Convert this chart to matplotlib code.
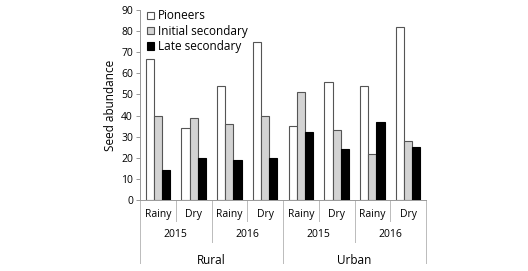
import matplotlib
matplotlib.use("Agg")
import matplotlib.pyplot as plt
import numpy as np

seasons = ["Rainy", "Dry", "Rainy", "Dry", "Rainy", "Dry", "Rainy", "Dry"]
years = ["2015", "2016", "2015", "2016"]
areas = ["Rural", "Urban"]
pioneers = [67, 34, 54, 75, 35, 56, 54, 82]
initial_secondary = [40, 39, 36, 40, 51, 33, 22, 28]
late_secondary = [14, 20, 19, 20, 32, 24, 37, 25]

plt.rcParams['font.family'] = ['Open Sans', 'DejaVu Sans']
fig = plt.figure(figsize=(5.28, 2.71), dpi=100)
ax = fig.add_axes([140/528, 1-200/271, 286/528, 190/271])

x = np.arange(len(seasons))
w = 0.23
ec = '#555555'
ax.bar(x - w, pioneers, w, color='white', edgecolor=ec, linewidth=0.8, label='Pioneers')
ax.bar(x, initial_secondary, w, color='#d3d3d3', edgecolor=ec, linewidth=0.8, label='Initial secondary')
ax.bar(x + w, late_secondary, w, color='black', edgecolor='black', linewidth=0.8, label='Late secondary')

ax.set_xlim(-0.5, 7.5)
ax.set_ylim(0, 90)
ax.set_yticks(range(0, 91, 10))
ax.tick_params(axis='y', labelsize=7.5, length=3, width=0.6, color='#888888', pad=2)
ax.set_xticks([])
for s in ['top', 'right']:
    ax.spines[s].set_visible(False)
for s in ['left', 'bottom']:
    ax.spines[s].set_color('#999999')
    ax.spines[s].set_linewidth(0.7)
ax.set_ylabel('Seed abundance', fontsize=8.5, labelpad=3)

tr = ax.get_xaxis_transform()
sep_col = '#bbbbbb'
lv1, lv2, lv3 = -0.11, -0.22, -0.33
for xs in [0.5, 2.5, 4.5, 6.5]:
    ax.plot([xs, xs], [0, lv1], transform=tr, color=sep_col, lw=0.7, clip_on=False)
for xs in [1.5, 5.5]:
    ax.plot([xs, xs], [0, lv2], transform=tr, color=sep_col, lw=0.7, clip_on=False)
for xs in [-0.5, 3.5, 7.5]:
    ax.plot([xs, xs], [0, lv3], transform=tr, color=sep_col, lw=0.7, clip_on=False)

for i, s in enumerate(seasons):
    ax.text(i, -0.075, s, transform=tr, ha='center', va='center', fontsize=7.5)
for j, y in enumerate(years):
    ax.text(2*j + 0.5, -0.18, y, transform=tr, ha='center', va='center', fontsize=7.5)
for k, a in enumerate(areas):
    ax.text(4*k + 1.5, -0.32, a, transform=tr, ha='center', va='center', fontsize=8.5)

leg = ax.legend(loc='upper left', bbox_to_anchor=(0.0, 1.04), frameon=False, fontsize=8.5,
                handlelength=0.6, handleheight=0.6, handletextpad=0.3, labelspacing=0.2,
                borderaxespad=0.2)

fig.savefig('out.png', dpi=100)
